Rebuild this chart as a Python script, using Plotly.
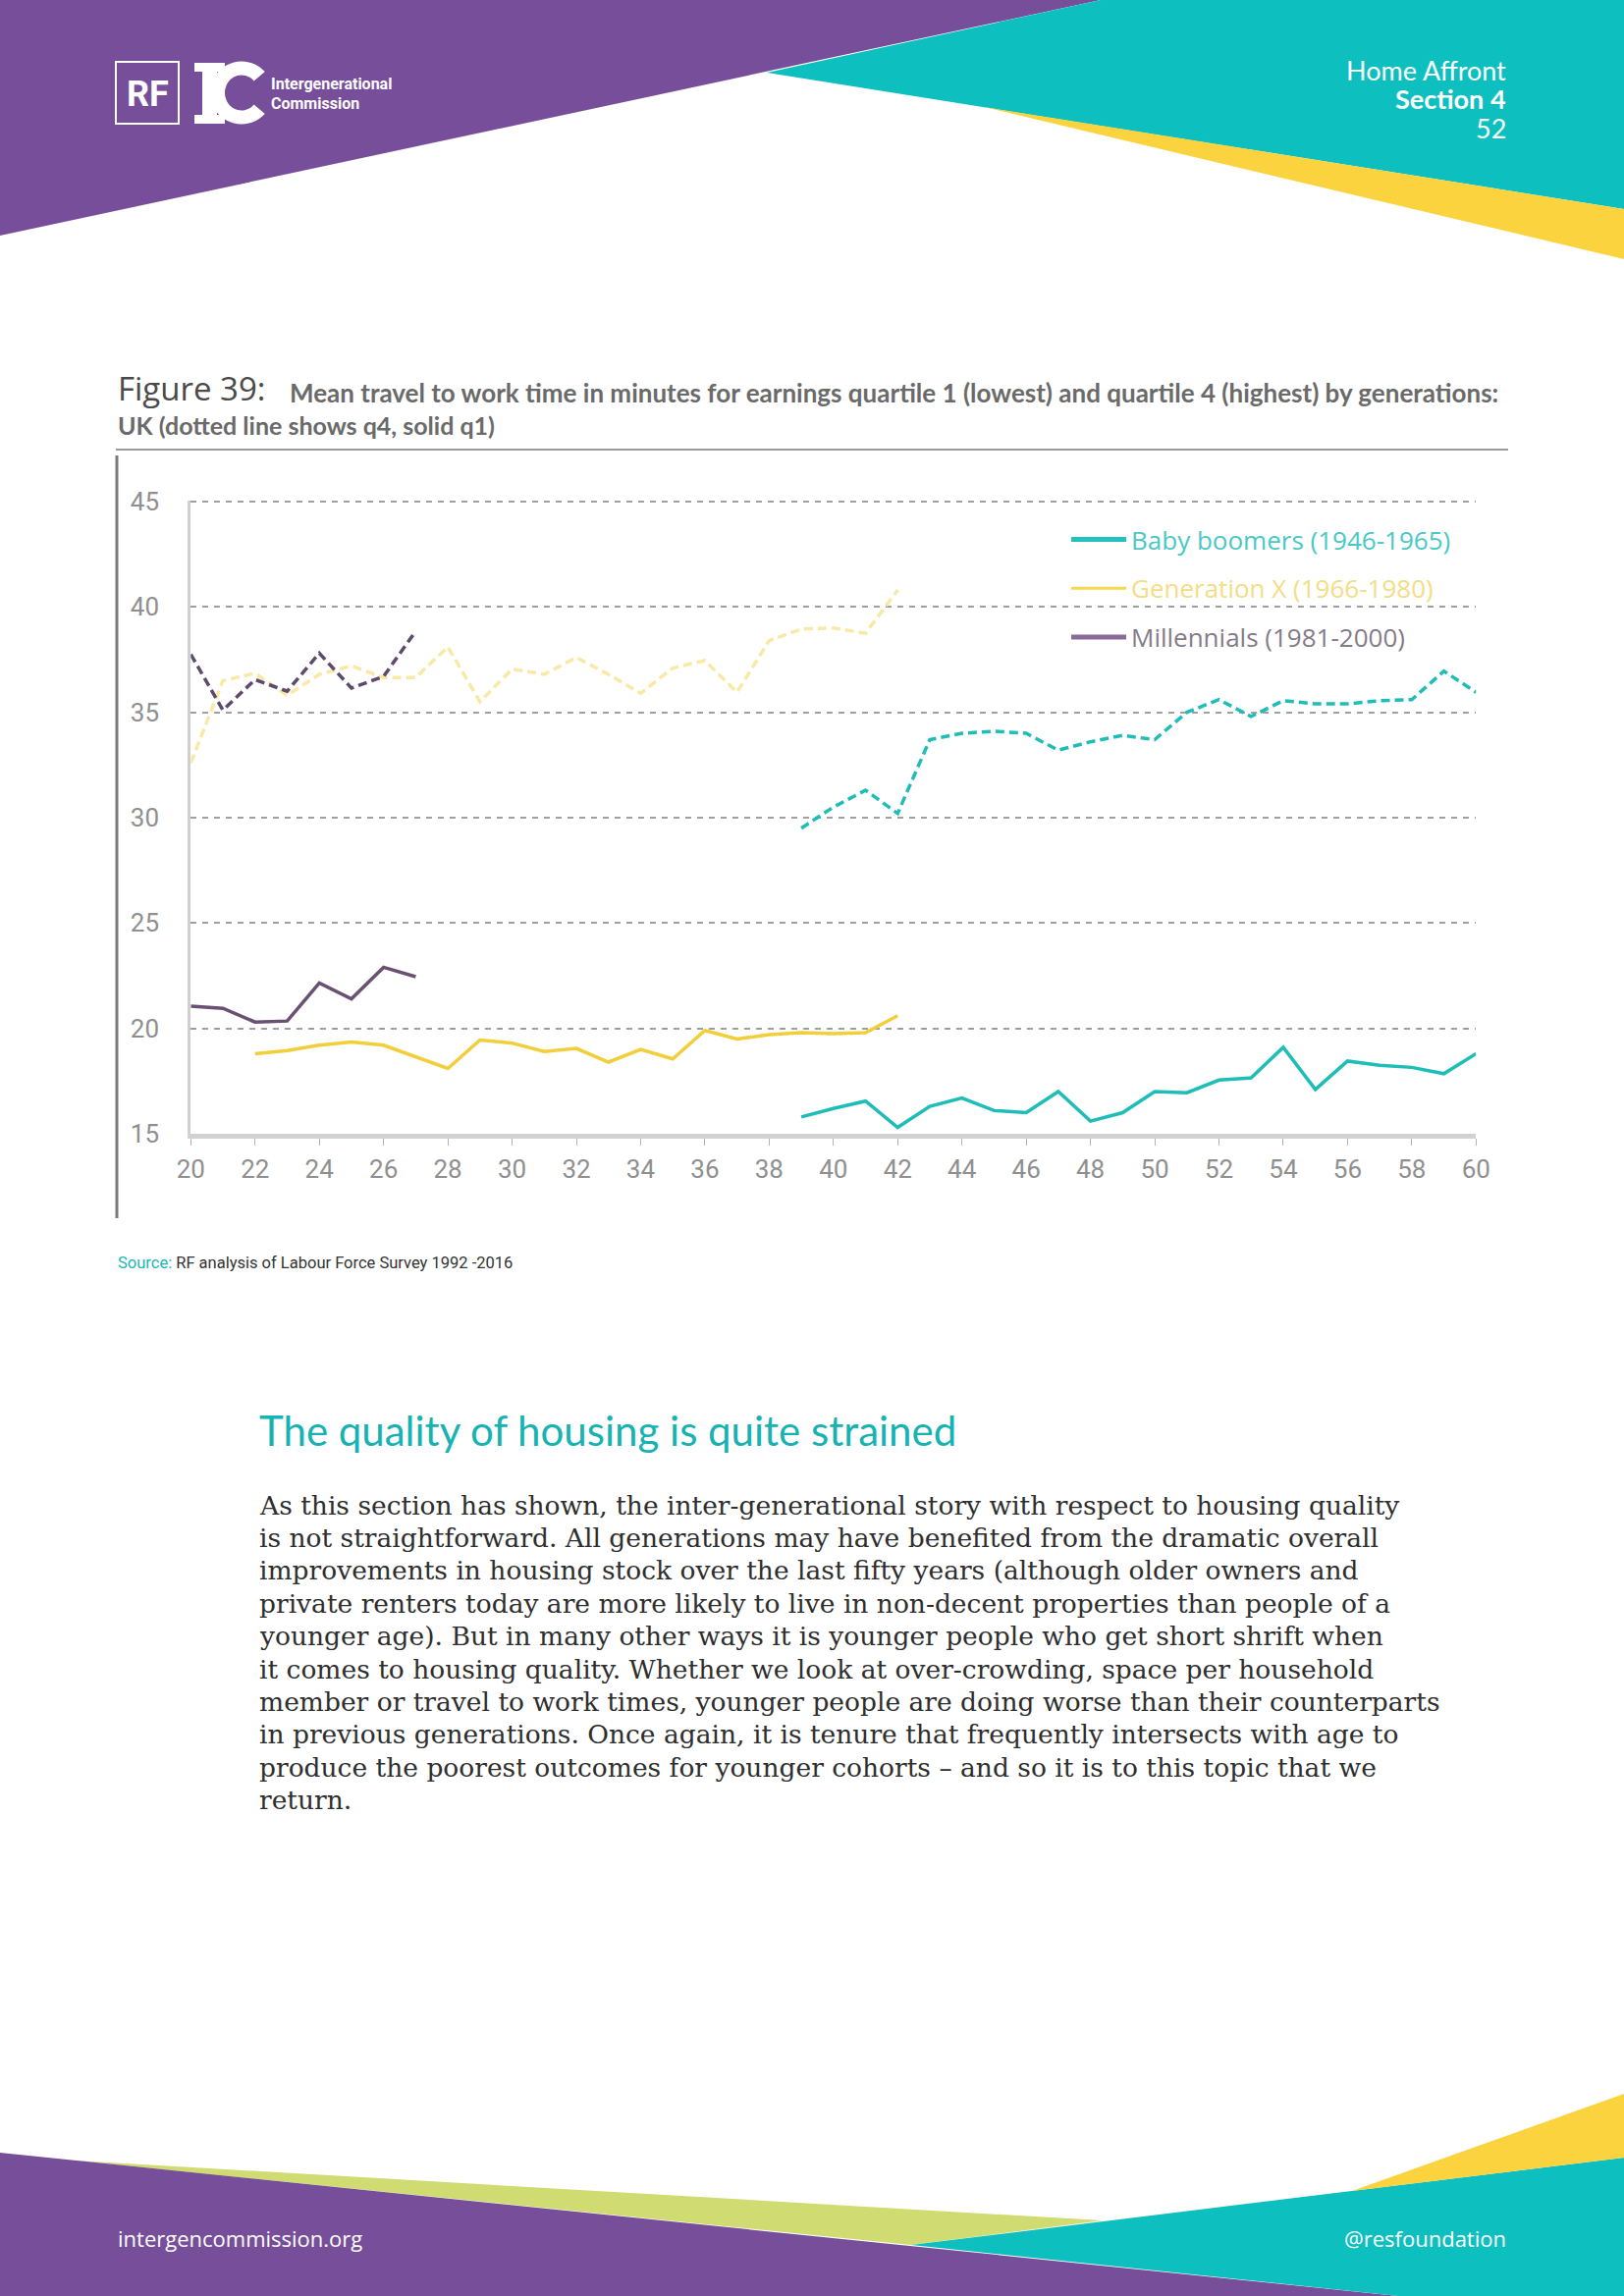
import math
import plotly.graph_objects as go

W, H = 1654, 2339

# ---------------- data ----------------
ages_boomers = list(range(39, 61))
boomers_q4 = [29.5, 30.5, 31.3, 30.2, 33.7, 34.0, 34.1, 34.0, 33.2, 33.6, 33.9,
              33.7, 35.0, 35.6, 34.8, 35.55, 35.4, 35.4, 35.55, 35.6, 36.95, 35.95]
boomers_q1 = [15.8, 16.2, 16.55, 15.3, 16.3, 16.7, 16.1, 16.0, 17.0, 15.6, 16.0,
              17.0, 16.95, 17.55, 17.65, 19.1, 17.1, 18.45, 18.25, 18.15, 17.85, 18.8]

ages_genx_q4 = list(range(20, 43))
genx_q4 = [32.6, 36.5, 36.85, 35.8, 36.8, 37.2, 36.65, 36.65, 38.1, 35.5, 37.05, 36.8,
           37.6, 36.8, 35.9, 37.1, 37.45, 35.95, 38.4, 38.95, 39.0, 38.75, 40.8]
ages_genx_q1 = list(range(22, 43))
genx_q1 = [18.8, 18.95, 19.2, 19.35, 19.2, 18.65, 18.1, 19.45, 19.3, 18.9, 19.05,
           18.4, 19.0, 18.55, 19.9, 19.5, 19.7, 19.8, 19.75, 19.8, 20.6]

ages_mill = list(range(20, 28))
mill_q4 = [37.75, 35.1, 36.55, 36.0, 37.8, 36.15, 36.7, 38.85]
mill_q1 = [21.05, 20.95, 20.3, 20.35, 22.15, 21.4, 22.9, 22.45]

x_ticks = list(range(20, 61, 2))
y_ticks = [15, 20, 25, 30, 35, 40, 45]

legend_names = ["Baby boomers (1946-1965)", "Generation X (1966-1980)", "Millennials (1981-2000)"]

body_lines = [
    "As this section has shown, the inter-generational story with respect to housing quality",
    "is not straightforward. All generations may have benefited from the dramatic overall",
    "improvements in housing stock over the last fifty years (although older owners and",
    "private renters today are more likely to live in non-decent properties than people of a",
    "younger age). But in many other ways it is younger people who get short shrift when",
    "it comes to housing quality. Whether we look at over-crowding, space per household",
    "member or travel to work times, younger people are doing worse than their counterparts",
    "in previous generations. Once again, it is tenure that frequently intersects with age to",
    "produce the poorest outcomes for younger cohorts \u2013 and so it is to this topic that we",
    "return.",
]

# ---------------- colours ----------------
PURPLE = "#774E9A"
TEAL = "#0DBFBE"
YELLOW = "#FBD33E"
LGREEN = "#D0DC72"

C_BOOM = "#1FBDB7"
C_GENX_Q1 = "#F2CF3A"
C_GENX_Q4 = "#F8E9A6"
C_MILL_Q1 = "#6A5072"
C_MILL_Q4 = "#5E4A6C"

LEG_LINE = ["#22C2C0", "#F6D84A", "#8A6A98"]
LEG_LINE_W = [5, 3, 5]
LEG_TEXT = ["#49C8C6", "#F4DD85", "#857A8A"]


def px(x, y):
    return x / W, 1 - y / H


def poly(points, color, layer="below"):
    parts = []
    for i, (x, y) in enumerate(points):
        a, b = px(x, y)
        parts.append(("M" if i == 0 else "L") + f"{a:.5f},{b:.5f}")
    return dict(type="path", xref="paper", yref="paper", path=" ".join(parts) + " Z",
                fillcolor=color, line=dict(width=0), layer=layer)


def rect(x0, y0, x1, y1, fill=None, line_color=None, lw=0):
    a0, b0 = px(x0, y0)
    a1, b1 = px(x1, y1)
    d = dict(type="rect", xref="paper", yref="paper", x0=a0, y0=b1, x1=a1, y1=b0,
             line=dict(width=lw, color=line_color or "rgba(0,0,0,0)"), layer="above")
    d["fillcolor"] = fill if fill else "rgba(0,0,0,0)"
    return d


def hline(x0, x1, y, color, w):
    a0, b = px(x0, y)
    a1, _ = px(x1, y)
    return dict(type="line", xref="paper", yref="paper", x0=a0, x1=a1, y0=b, y1=b,
                line=dict(color=color, width=w), layer="below")


def vline(x, y0, y1, color, w):
    a, b0 = px(x, y0)
    _, b1 = px(x, y1)
    return dict(type="line", xref="paper", yref="paper", x0=a, x1=a, y0=b0, y1=b1,
                line=dict(color=color, width=w), layer="below")


def note(x, y, text, size, color, family="Lato", xanchor="left", yanchor="middle"):
    a, b = px(x, y)
    return dict(x=a, y=b, xref="paper", yref="paper", text=text, showarrow=False,
                xanchor=xanchor, yanchor=yanchor,
                font=dict(size=size, color=color, family=family))


fig = go.Figure()

# q4 (dashed) lines
fig.add_trace(go.Scatter(x=ages_boomers, y=boomers_q4, mode="lines", showlegend=False,
                         line=dict(color=C_BOOM, width=3.5, dash="9px,5px")))
fig.add_trace(go.Scatter(x=ages_genx_q4, y=genx_q4, mode="lines", showlegend=False,
                         line=dict(color=C_GENX_Q4, width=3.5, dash="9px,5px")))
fig.add_trace(go.Scatter(x=ages_mill, y=mill_q4, mode="lines", showlegend=False,
                         line=dict(color=C_MILL_Q4, width=3.5, dash="9px,5px")))

# q1 (solid) lines
fig.add_trace(go.Scatter(x=ages_boomers, y=boomers_q1, mode="lines", showlegend=False,
                         line=dict(color=C_BOOM, width=3.5)))
fig.add_trace(go.Scatter(x=ages_genx_q1, y=genx_q1, mode="lines", showlegend=False,
                         line=dict(color=C_GENX_Q1, width=3.5)))
fig.add_trace(go.Scatter(x=ages_mill, y=mill_q1, mode="lines", showlegend=False,
                         line=dict(color=C_MILL_Q1, width=3.5)))

# legend entries
for i, nm in enumerate(legend_names):
    fig.add_trace(go.Scatter(x=[None], y=[None], mode="lines", legendgroup=f"g{i}",
                             name=f"<span style='color:{LEG_TEXT[i]}'>{nm}</span>",
                             line=dict(color=LEG_LINE[i], width=LEG_LINE_W[i])))

Y_TOP = 45.06
x0d, x1d = 194.3 / W, 1503.3 / W
y0d = 1 - 1155 / H
y1d = 1 - (1155 - (Y_TOP - 15) * 21.47) / H

shapes = []
# header
shapes.append(poly([(0, 0), (1121, 0), (0, 240)], PURPLE))
shapes.append(poly([(1121, 0), (1654, 0), (1654, 213), (781, 74)], TEAL))
shapes.append(poly([(1002, 109), (1654, 213), (1654, 264)], YELLOW))
# footer
shapes.append(poly([(76, 2201), (1123, 2262), (928, 2287)], LGREEN))
shapes.append(poly([(0, 2193), (1424, 2339), (0, 2339)], PURPLE))
shapes.append(poly([(928, 2287), (1654, 2198), (1654, 2339), (1424, 2339)], TEAL))
shapes.append(poly([(1377, 2232), (1654, 2133), (1654, 2198)], YELLOW))
# logo: RF box and "IC" mark
shapes.append(rect(118, 63, 182, 126, line_color="white", lw=2))
shapes.append(rect(198, 64, 229, 73, fill="white"))
shapes.append(rect(206, 64, 221, 126, fill="white"))
shapes.append(rect(198, 117, 229, 126, fill="white"))
cx, cy = 246, 94.5
outer, inner = [], []
for k in range(0, 41):
    ang = math.radians(42 + k * (276 / 40))
    outer.append((cx + 32 * math.cos(ang), cy - 32 * math.sin(ang)))
    inner.append((cx + 17 * math.cos(ang), cy - 18 * math.sin(ang)))
shapes.append(poly(outer + inner[::-1], "white", layer="above"))
# chart frame
shapes.append(hline(118, 1536, 458, "#9a9a9a", 2))
shapes.append(vline(119, 464, 1241, "#7a7a7a", 3))

annotations = []
annotations.append(note(150, 96, "<b>RF</b>", 36, "white", family="Roboto", xanchor="center"))
annotations.append(note(274, 86, "<b>Intergenerational</b>", 16, "white", family="Roboto"))
annotations.append(note(274, 105, "<b>Commission</b>", 16, "white", family="Roboto"))
annotations.append(note(1536, 72, "Home Affront", 27, "white", xanchor="right"))
annotations.append(note(1536, 101, "<b>Section 4</b>", 27, "white", xanchor="right"))
annotations.append(note(1536, 131, "52", 27, "white", xanchor="right"))

annotations.append(note(118, 396, "Figure 39:", 33, "#4a4a4a", family="Open Sans"))
annotations.append(note(293, 400,
                        "<b>Mean travel to work time in minutes for earnings quartile 1 (lowest) and quartile 4 (highest) by generations:</b>",
                        26, "#6a6a6a"))
annotations.append(note(118, 433, "<b>UK (dotted line shows q4, solid q1)</b>", 25, "#6a6a6a"))

annotations.append(note(118, 1286,
                        "<span style='color:#18B6B6'>Source:</span> RF analysis of Labour Force Survey 1992 -2016",
                        16.5, "#333333", family="Roboto"))

annotations.append(note(262, 1457, "The quality of housing is quite strained", 42, "#17B2B2", family="Lato"))

for i, line in enumerate(body_lines):
    annotations.append(note(262, 1533 + i * 33.4, line, 26.5, "#2e2e2e", family="DejaVu Serif"))

annotations.append(note(118, 2280, "intergencommission.org", 22, "white", family="Open Sans"))
annotations.append(note(1536, 2280, "@resfoundation", 22, "white", family="Open Sans", xanchor="right"))

fig.update_layout(
    width=W, height=H, template="none",
    margin=dict(l=0, r=0, t=0, b=0, pad=0),
    paper_bgcolor="white", plot_bgcolor="rgba(0,0,0,0)",
    font=dict(family="Roboto", color="#8a8a8a"),
    shapes=shapes, annotations=annotations,
    showlegend=True,
    legend=dict(x=1086 / W, y=1 - 526 / H, xanchor="left", yanchor="top",
                bgcolor="rgba(0,0,0,0)", font=dict(size=26, family="Open Sans"),
                traceorder="grouped", tracegroupgap=13, itemwidth=56),
    xaxis=dict(domain=[x0d, x1d], range=[20, 60], tickvals=x_ticks,
               showgrid=False, zeroline=False, automargin=False,
               showline=True, linecolor="#d2d2d2", linewidth=5,
               ticks="outside", ticklen=7, tickwidth=1, tickcolor="#b5b5b5",
               tickfont=dict(size=26, color="#8f8f8f", family="Roboto"), ticklabelstandoff=2),
    yaxis=dict(domain=[y0d, y1d], range=[15, Y_TOP], tickvals=y_ticks,
               showgrid=True, gridcolor="#a0a0a0", gridwidth=2, griddash="6px,6px",
               zeroline=False, automargin=False,
               showline=True, linecolor="#cfcfcf", linewidth=3, ticks="",
               tickfont=dict(size=26, color="#8f8f8f", family="Roboto"), ticklabelstandoff=24),
)

fig.write_html("out.html", config={"displayModeBar": False},
               post_script="document.body.style.margin='0px';document.body.style.overflow='hidden';")
